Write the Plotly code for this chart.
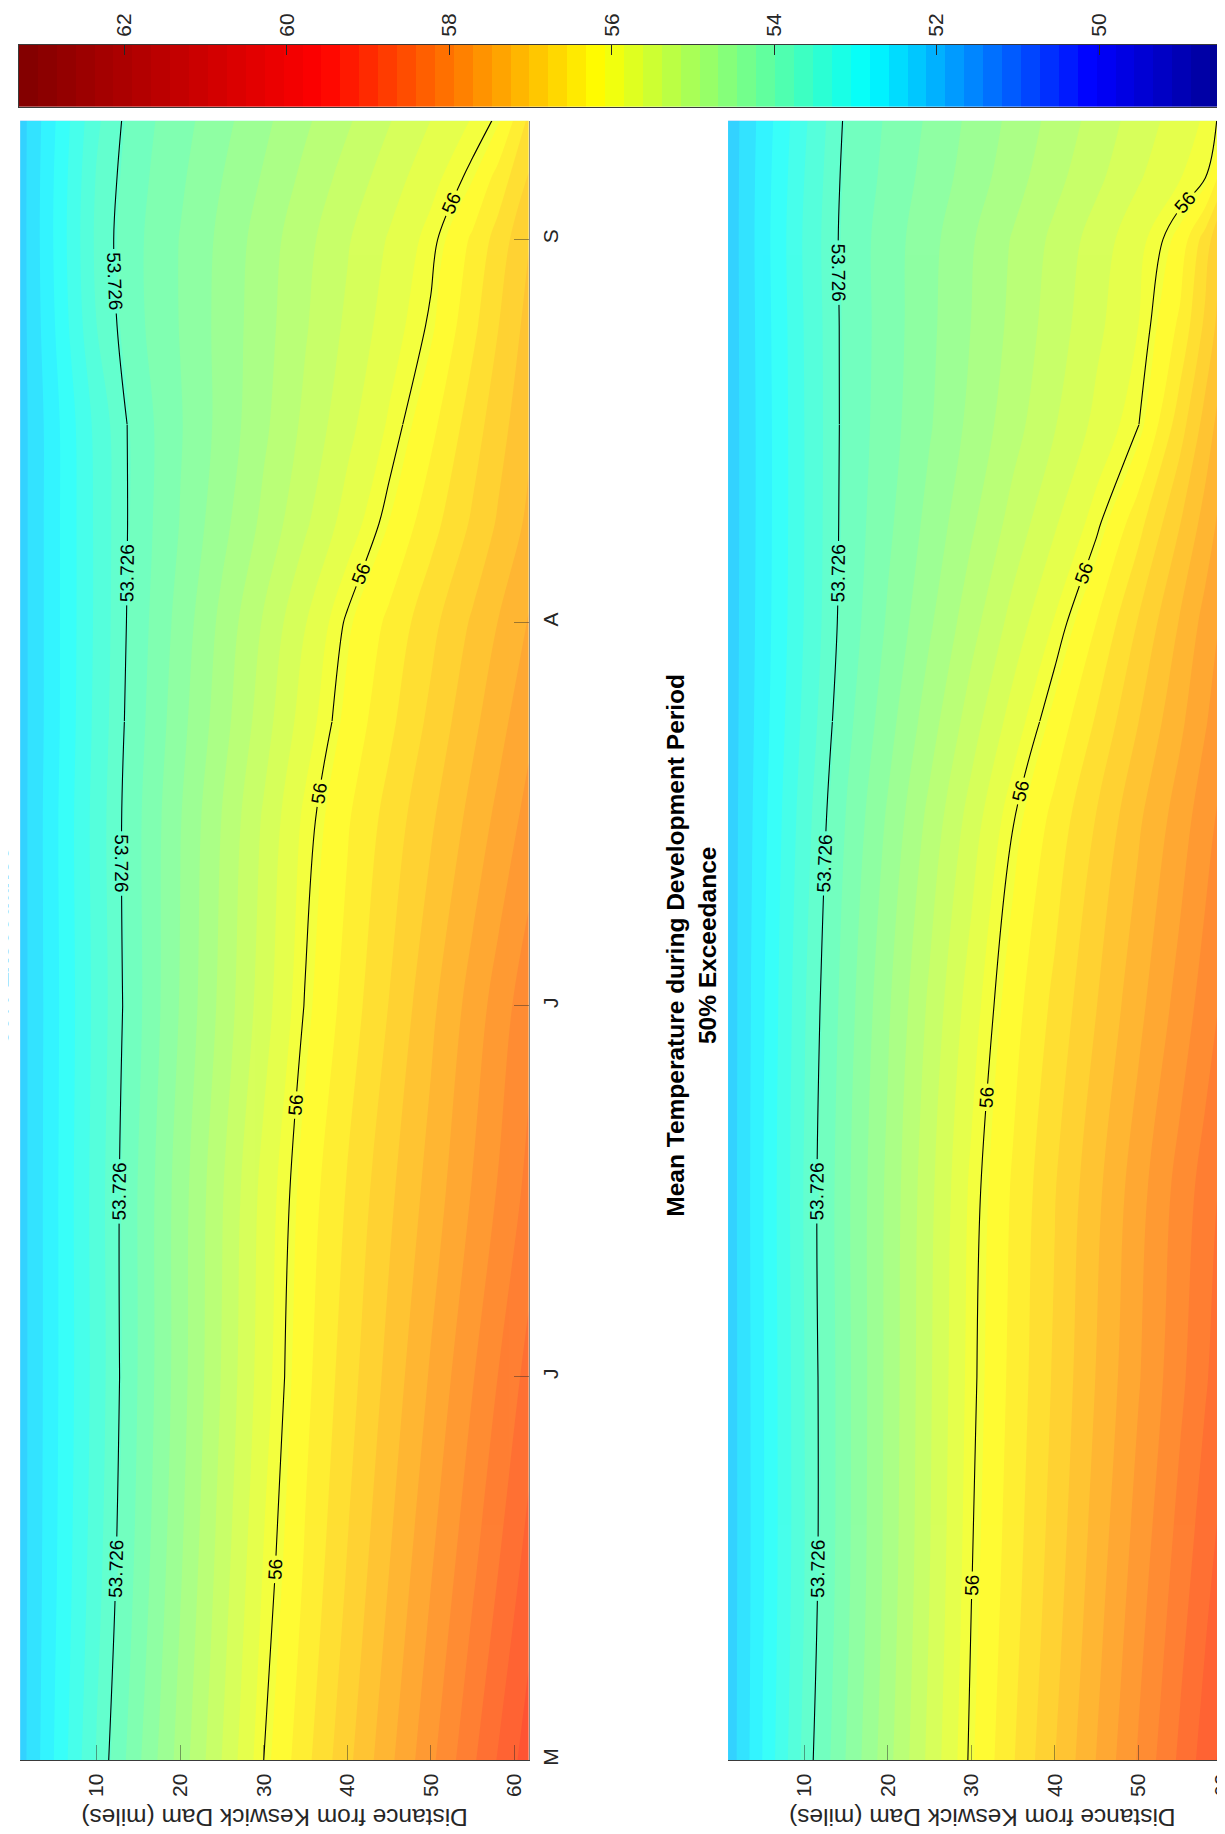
import numpy as np
import plotly.graph_objects as go

# ---------------- data ----------------
distance_mi = [0.86, 5, 10, 15, 20, 25, 30, 35, 40, 45, 50, 55, 58, 61.7]
day_of_year = [121, 136, 152, 167, 182, 197, 205, 213, 221, 229, 237, 244, 249, 253.6]

# panel 1 (left) mean temperature, degF  rows = day_of_year, cols = distance_mi
temp_panel1 = [
    [52.25, 52.84, 53.54, 54.18, 54.78, 55.39, 56.00, 56.48, 56.95, 57.42, 57.89, 58.37, 58.66, 59.00],
    [52.25, 52.79, 53.44, 54.06, 54.66, 55.27, 55.87, 56.35, 56.80, 57.25, 57.70, 58.14, 58.41, 58.75],
    [52.25, 52.77, 53.39, 54.00, 54.58, 55.17, 55.75, 56.25, 56.67, 57.09, 57.51, 57.93, 58.18, 58.50],
    [52.25, 52.77, 53.40, 54.00, 54.57, 55.13, 55.70, 56.18, 56.57, 56.96, 57.34, 57.73, 57.96, 58.25],
    [52.25, 52.76, 53.37, 53.94, 54.47, 54.99, 55.51, 56.02, 56.41, 56.79, 57.19, 57.58, 57.81, 58.10],
    [52.25, 52.77, 53.39, 53.95, 54.44, 54.93, 55.42, 55.91, 56.29, 56.64, 56.98, 57.33, 57.54, 57.80],
    [52.25, 52.75, 53.36, 53.91, 54.37, 54.82, 55.28, 55.74, 56.15, 56.49, 56.84, 57.19, 57.39, 57.65],
    [52.25, 52.75, 53.34, 53.88, 54.31, 54.75, 55.18, 55.61, 56.04, 56.37, 56.71, 57.05, 57.25, 57.50],
    [52.25, 52.75, 53.34, 53.86, 54.23, 54.61, 54.98, 55.35, 55.72, 56.09, 56.46, 56.82, 57.04, 57.30],
    [52.25, 52.75, 53.36, 53.86, 54.20, 54.53, 54.87, 55.21, 55.54, 55.88, 56.25, 56.67, 56.91, 57.20],
    [52.25, 52.82, 53.52, 53.94, 54.23, 54.53, 54.83, 55.13, 55.43, 55.73, 56.04, 56.49, 56.77, 57.10],
    [52.25, 52.85, 53.57, 53.95, 54.23, 54.51, 54.80, 55.08, 55.36, 55.64, 55.93, 56.36, 56.64, 57.00],
    [52.25, 52.84, 53.54, 53.92, 54.18, 54.45, 54.71, 54.98, 55.24, 55.50, 55.77, 56.07, 56.40, 56.80],
    [52.25, 52.81, 53.48, 53.89, 54.13, 54.38, 54.63, 54.88, 55.12, 55.37, 55.62, 55.87, 56.04, 56.60],
]

# panel 2 (right) mean temperature, degF
temp_panel2 = [
    [52.20, 52.83, 53.59, 54.23, 54.84, 55.45, 56.05, 56.53, 57.01, 57.49, 57.97, 58.46, 58.75, 59.10],
    [52.20, 52.80, 53.52, 54.16, 54.77, 55.38, 55.99, 56.45, 56.90, 57.37, 57.83, 58.29, 58.57, 58.90],
    [52.20, 52.80, 53.52, 54.15, 54.75, 55.35, 55.94, 56.39, 56.82, 57.26, 57.69, 58.12, 58.38, 58.70],
    [52.20, 52.81, 53.54, 54.16, 54.74, 55.32, 55.90, 56.35, 56.77, 57.19, 57.62, 58.04, 58.28, 58.60],
    [52.20, 52.79, 53.50, 54.10, 54.65, 55.20, 55.74, 56.22, 56.61, 57.01, 57.41, 57.81, 58.05, 58.35],
    [52.20, 52.75, 53.42, 54.00, 54.49, 54.99, 55.49, 55.99, 56.40, 56.80, 57.21, 57.60, 57.85, 58.15],
    [52.20, 52.72, 53.35, 53.91, 54.36, 54.81, 55.27, 55.72, 56.16, 56.58, 57.01, 57.43, 57.69, 58.00],
    [52.20, 52.70, 53.30, 53.84, 54.25, 54.65, 55.06, 55.47, 55.87, 56.32, 56.80, 57.27, 57.56, 57.90],
    [52.20, 52.69, 53.29, 53.82, 54.17, 54.53, 54.88, 55.24, 55.59, 55.95, 56.47, 57.01, 57.34, 57.75],
    [52.20, 52.69, 53.29, 53.81, 54.12, 54.43, 54.75, 55.06, 55.37, 55.68, 55.99, 56.68, 57.10, 57.60],
    [52.20, 52.70, 53.30, 53.81, 54.10, 54.40, 54.69, 54.98, 55.27, 55.56, 55.85, 56.37, 56.83, 57.40],
    [52.20, 52.71, 53.32, 53.82, 54.10, 54.38, 54.66, 54.94, 55.21, 55.49, 55.77, 56.16, 56.66, 57.30],
    [52.20, 52.70, 53.29, 53.80, 54.05, 54.31, 54.56, 54.82, 55.08, 55.33, 55.59, 55.84, 55.99, 56.80],
    [52.20, 52.68, 53.25, 53.77, 54.02, 54.26, 54.51, 54.75, 55.00, 55.24, 55.49, 55.73, 55.88, 56.20],
]

labelled_levels = [53.726, 56.0]

month_ticks = [121, 152, 182, 213, 244]
month_labels = ["M", "J", "J", "A", "S"]
distance_ticks = [10, 20, 30, 40, 50, 60]
cbar_ticks = [50, 52, 54, 56, 58, 60, 62]

# colour scale (jet-like)
cbar_min, cbar_max, n_bands = 48.4, 63.3, 64
anchor_vals = [48.4, 50.1, 52.85, 56.15, 59.56, 63.3]
anchor_cols = ["#00008f", "#0000ff", "#00ffff", "#ffff00", "#ff0000", "#800000"]

title_text = "<b>Mean Temperature during Development Period</b><br><b>50% Exceedance</b>"
xlabel_text = "Distance from Keswick Dam (miles)"

# ---------------- styling ----------------
W, H = 1225, 1834
FONT = "Liberation Sans, Arial, Helvetica, sans-serif"
TXT = "#262626"

band = (cbar_max - cbar_min) / n_bands
c_start = cbar_min
c_end = cbar_min + (n_bands - 1) * band
dom_lo = c_start - band / 2
dom_hi = c_start + (n_bands - 0.5) * band

def scale(lo, hi):
    out = []
    for v, c in zip(anchor_vals, anchor_cols):
        p = (v - lo) / (hi - lo)
        out.append([min(max(p, 0.0), 1.0), c])
    out[0][0] = 0.0
    out[-1][0] = 1.0
    return out

contour_scale = scale(dom_lo, dom_hi)
bar_scale = scale(cbar_min, cbar_max)

# row-index pieces used to draw the labelled lines, so that each piece carries a label
label_pieces = [(0, 2), (2, 4), (4, 6), (6, 9), (9, 13)]

fig = go.Figure()

for z, xa, ya in [(temp_panel1, "x", "y"), (temp_panel2, "x2", "y2")]:
    fig.add_trace(go.Contour(
        x=distance_mi, y=day_of_year, z=z, xaxis=xa, yaxis=ya,
        colorscale=contour_scale, showscale=False, opacity=0.8,
        contours=dict(start=c_start, end=c_end, size=band, coloring="fill", showlines=False),
        line=dict(width=0), hoverinfo="skip",
    ))
    for a, b in label_pieces:
        fig.add_trace(go.Contour(
            x=distance_mi, y=day_of_year[a:b + 1], z=z[a:b + 1], xaxis=xa, yaxis=ya,
            showscale=False,
            contours=dict(start=labelled_levels[0], end=labelled_levels[1],
                          size=labelled_levels[1] - labelled_levels[0],
                          coloring="none", showlabels=True, labelformat=".5~g",
                          labelfont=dict(family=FONT, size=19, color="black")),
            line=dict(color="black", width=1.1), hoverinfo="skip",
        ))

# colour bar drawn as a one-row heatmap on its own (reversed) axis
band_centres = np.linspace(cbar_min + band / 2, cbar_max - band / 2, n_bands)
fig.add_trace(go.Heatmap(
    x=band_centres, y=[0], z=[band_centres], xaxis="x3", yaxis="y3",
    colorscale=bar_scale, zmin=cbar_min, zmax=cbar_max, showscale=False,
    hoverinfo="skip",
))

def px_x(p):
    return p / W

def px_y(p):
    return 1 - p / H

p1_dom = [px_x(12.2), px_x(522.4)]
p2_dom = [px_x(722.4), 1.0]
py_dom = [px_y(1758), px_y(113)]

tickfont = dict(family=FONT, size=21, color=TXT)
dist_axis = dict(
    range=[0.86, 61.7], tickvals=distance_ticks, tickangle=-90, ticks="inside",
    ticklen=15, tickcolor="rgba(38,38,38,0.45)", tickwidth=1,
    showline=True, linecolor="#3a3a3a", linewidth=1, mirror=False,
    showgrid=False, zeroline=False, tickfont=tickfont, ticklabelstandoff=4,
    ticklabeloverflow="allow",
)
month_axis = dict(
    range=[121, 253.6], tickvals=month_ticks, ticktext=month_labels, tickangle=-90,
    side="right", ticks="inside", ticklen=15, tickcolor="rgba(38,38,38,0.45)",
    showgrid=False, zeroline=False, tickfont=tickfont,
)

fig.update_layout(
    width=W, height=H, margin=dict(l=0, r=0, t=0, b=0),
    paper_bgcolor="white", plot_bgcolor="white", showlegend=False,
    font=dict(family=FONT, color=TXT),
    xaxis=dict(dist_axis, domain=p1_dom, anchor="y"),
    yaxis=dict(month_axis, domain=py_dom, anchor="x", showline=True,
               linecolor="rgba(58,58,58,0.6)", ticklabelstandoff=3),
    xaxis2=dict(dist_axis, domain=p2_dom, anchor="y2", range=[0.86, 60.86]),
    yaxis2=dict(month_axis, domain=py_dom, anchor="x2", showline=False,
                showticklabels=False, ticklen=8),
    xaxis3=dict(domain=[px_x(11), 1.0], anchor="y3", range=[cbar_max, cbar_min],
                side="top", tickvals=cbar_ticks, tickangle=-90, ticks="inside",
                ticklen=10, tickcolor=TXT, showline=True, mirror=True,
                linecolor="#3a3a3a", linewidth=1, showgrid=False, zeroline=False,
                tickfont=tickfont, ticklabelstandoff=3),
    yaxis3=dict(domain=[px_y(99), px_y(37)], anchor="x3", range=[-0.5, 0.5],
                showticklabels=False, ticks="", showline=True, mirror=True,
                linecolor="#3a3a3a", linewidth=1, showgrid=False, zeroline=False),
)

# rotated titles and axis labels (figure is shown turned a quarter turn)
for xc in [px_x(686 - 710.2), px_x(686)]:
    fig.add_annotation(text=title_text, xref="paper", yref="paper", x=xc, y=px_y(940),
                       xanchor="center", yanchor="middle", textangle=-90, showarrow=False,
                       font=dict(family=FONT, size=24.5, color="black"))
for xc in [(p1_dom[0] + p1_dom[1]) / 2, px_x((722.4 + 1232.6) / 2)]:
    fig.add_annotation(text=xlabel_text, xref="paper", yref="paper", x=xc, y=px_y(1816),
                       xanchor="center", yanchor="middle", textangle=180, showarrow=False,
                       font=dict(family=FONT, size=24.5, color=TXT))

fig.write_html("out.html")
